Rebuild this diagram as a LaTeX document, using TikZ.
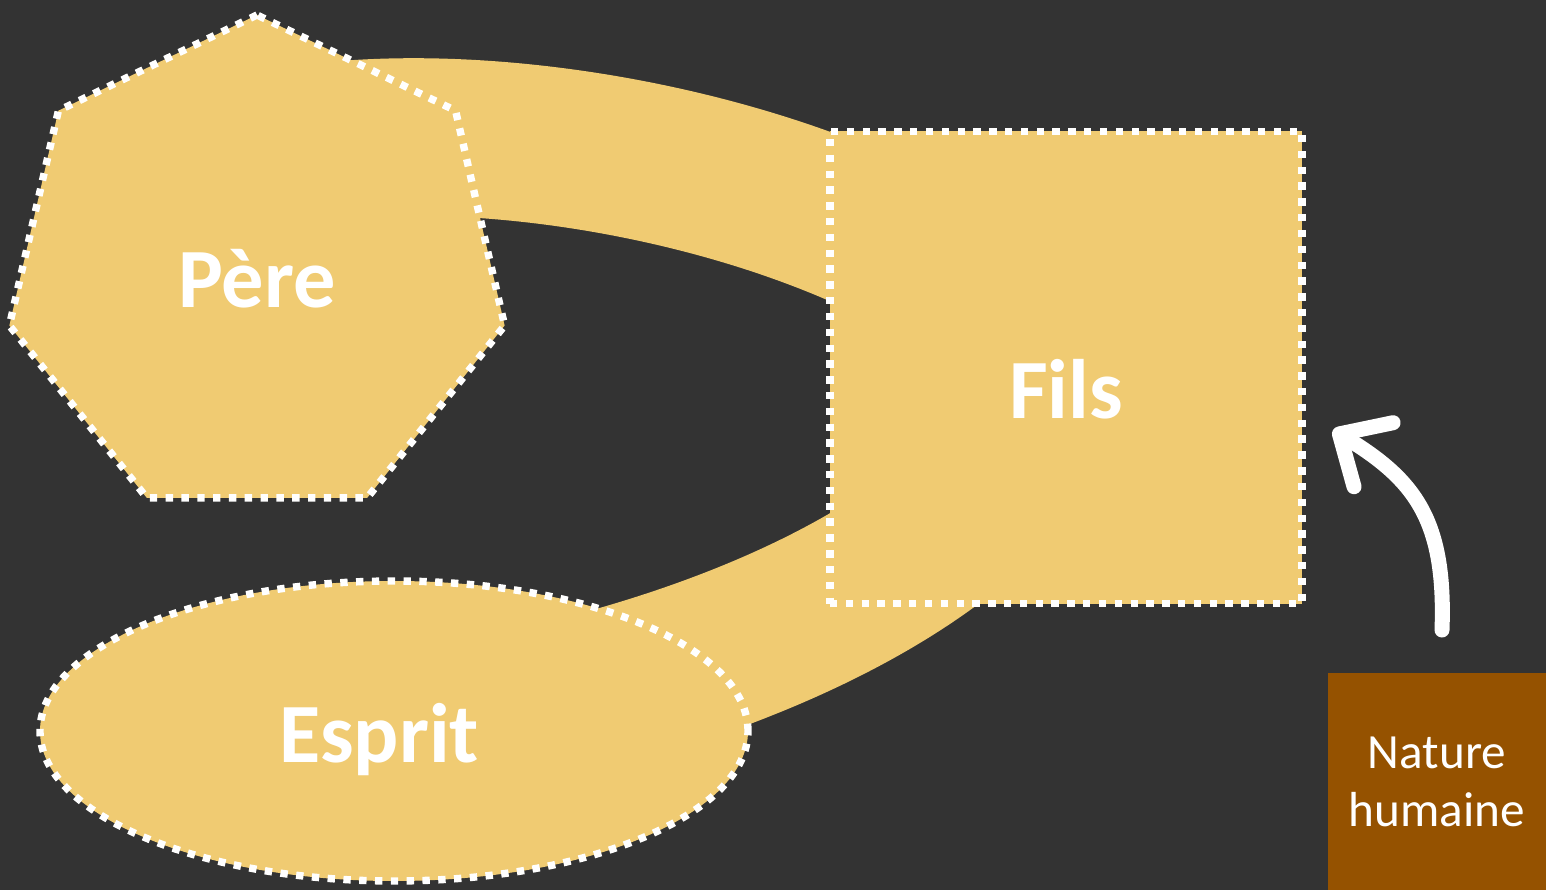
\documentclass[tikz,border=0pt]{standalone}
\usepackage{fontspec}
\setmainfont{Carlito}
\usepackage{tikz}
\usetikzlibrary{shapes.geometric, arrows.meta, backgrounds}

\definecolor{bgdark}{HTML}{333333}
\definecolor{gold}{HTML}{F0CB72}
\definecolor{natbrown}{HTML}{955200}

\begin{document}
\begin{tikzpicture}[
    godbox/.style={fill=gold, draw=white, line width=4.2pt, dash pattern=on 4.2pt off 4.8pt, inner sep=0pt, text=white, font=\fontsize{48}{58}\selectfont\bfseries},
    band/.style={draw=gold, line width=3.15cm, line join=round},
    arrow/.style={-{Straight Barb[length=0.8cm, width=1.5cm, line cap=round, line join=round]}, white, line width=0.3cm, line cap=round}
]
\useasboundingbox (0,0) rectangle (30.92,17.8);

% Persons
\node[godbox, regular polygon, regular polygon sides=7, minimum size=10.16cm, text height=43.5pt, text depth=0pt] (pere) at (5.14,12.42) {Père};
\node[godbox, rectangle, minimum size=9.44cm, text height=57.8pt, text depth=0pt] (fils) at (21.32,10.45) {Fils};
\node[godbox, ellipse, minimum width=14.16cm, minimum height=6cm, text height=36pt, text depth=0pt] (esprit) at (7.88,3.18) {Esprit\hspace*{0.6cm}};

% Nature humaine
\node[fill=natbrown, text=white, minimum width=4.36cm, minimum height=4.34cm, align=center, font=\fontsize{28}{33}\selectfont] (nature) at (28.74,2.17) {Nature\\humaine};

% Bands behind the persons
\begin{scope}[on background layer]
\fill[bgdark] (0,0) rectangle (30.92,17.8);
\draw[band] (pere.center) -- ++(0,2.32) .. controls (9.6,15.8) and (18,14.2) .. (fils.center);
\draw[band] (fils.center) .. controls (20.2,6.6) and (14,4.0) .. (esprit.center);
\end{scope}

% Arrow to Fils
\coordinate (tail) at (28.84,5.2);
\coordinate (tip) at (26.66,9.2);
\draw[arrow] (tail) .. controls (28.92,7.4) and (28.3,8.2) .. (tip);

\end{tikzpicture}
\end{document}
